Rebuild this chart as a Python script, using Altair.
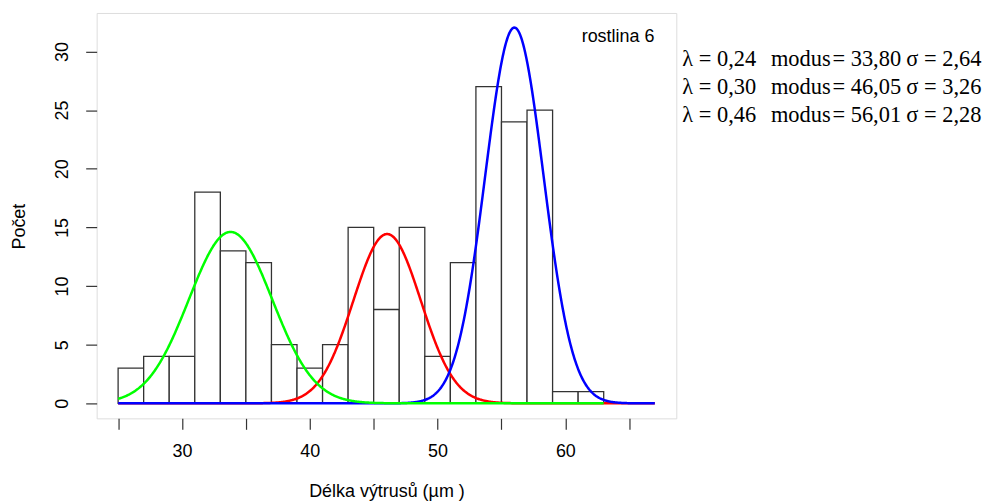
import altair as alt
import numpy as np
import pandas as pd

# ---- data ----
bin_left = [25, 27, 29, 31, 33, 35, 37, 39, 41, 43, 45, 47, 49, 51, 53, 55, 57, 59, 61]
counts = [3, 4, 4, 18, 13, 12, 5, 3, 5, 15, 8, 15, 4, 12, 27, 24, 25, 1, 1]
bin_width = 2

# fitted normal components as drawn (green, red, blue)
curve_modes = [33.80, 46.05, 56.01]
curve_lambdas = [0.30, 0.24, 0.46]
curve_sigmas = [3.26, 2.64, 2.28]
curve_colors = ["#00FF00", "#FF0000", "#0000FF"]
curve_x_from = [25, 25, 25]
curve_x_to = [63, 67, 67]

lambda_labels = ["λ = 0,24", "λ = 0,30", "λ = 0,46"]
modus_labels = ["modus\u200a= 33,80", "modus\u200a= 46,05", "modus\u200a= 56,01"]
sigma_labels = ["σ = 2,64", "σ = 3,26", "σ = 2,28"]

x_ticks = [25, 30, 35, 40, 45, 50, 55, 60, 65]
y_ticks = [0, 5, 10, 15, 20, 25, 30]
panel_label = "rostlina 6"
x_title = "Délka výtrusů (µm )"
y_title = "Počet"

# ---- tables ----
hist = pd.DataFrame({"left": bin_left, "count": counts})
hist["right"] = hist["left"] + bin_width
n_total = sum(counts)

curves = []
for i in range(3):
    xs = np.arange(curve_x_from[i], curve_x_to[i] + 1e-9, 0.05)
    ys = (curve_lambdas[i] * n_total * bin_width
          * np.exp(-0.5 * ((xs - curve_modes[i]) / curve_sigmas[i]) ** 2)
          / (curve_sigmas[i] * np.sqrt(2 * np.pi)))
    curves.append(pd.DataFrame({"x": xs, "y": ys}))

# ---- scales / axes ----
W, H = 582, 407
x_scale = alt.Scale(domain=[23.32, 68.68], nice=False, zero=False)
y_scale = alt.Scale(domain=[-1.28, 33.28], nice=False, zero=False)

common_axis = dict(
    domain=False, grid=False, tickColor="#333333", tickWidth=1.2, tickSize=11,
    labelFont="Liberation Sans", labelFontSize=18, labelColor="#000000",
    titleFont="Liberation Sans", titleFontSize=18, titleColor="#000000",
    titleFontWeight="normal",
)
x_axis = alt.Axis(
    values=x_ticks, labelExpr="datum.value % 10 == 0 ? datum.label : ''",
    labelPadding=13, labelFlush=False, titleX=W / 2, titleY=73,
    titleBaseline="middle", titleAlign="center", **common_axis)
y_axis = alt.Axis(
    values=y_ticks, labelAngle=-90, labelPadding=14, labelAlign="center",
    labelBaseline="bottom", titleAngle=-90, titleX=-77, titleY=214,
    titleBaseline="middle", titleAlign="center", **common_axis)


def xenc(field):
    return alt.X(f"{field}:Q", scale=x_scale, axis=x_axis, title=x_title)


def yenc(field):
    return alt.Y(f"{field}:Q", scale=y_scale, axis=y_axis, title=y_title)


bars = alt.Chart(hist).mark_bar(
    fill="white", stroke="#333333", strokeWidth=1.3, clip=True
).encode(
    x=xenc("left"), x2="right", y=yenc("count"), y2=alt.datum(0)
)

layers = [bars]
for i in [1, 2, 0]:  # red, blue, green (green drawn last)
    layers.append(
        alt.Chart(curves[i]).mark_line(
            color=curve_colors[i], strokeWidth=2.5, clip=True
        ).encode(x=xenc("x"), y=yenc("y"))
    )

# panel label
layers.append(
    alt.Chart(pd.DataFrame({"t": [panel_label]})).mark_text(
        align="right", baseline="middle", font="Liberation Sans", fontSize=18, color="black"
    ).encode(x=alt.value(560), y=alt.value(24), text="t:N")
)

# legend text on the right
col_x = [588, 677, 813]
row_y0, row_step = 46, 28
for r in range(3):
    for c, labels in enumerate([lambda_labels, modus_labels, sigma_labels]):
        layers.append(
            alt.Chart(pd.DataFrame({"t": [labels[r]]})).mark_text(
                align="left", baseline="middle", font="Liberation Serif",
                fontSize=22.5, color="black"
            ).encode(x=alt.value(col_x[c]), y=alt.value(row_y0 + r * row_step), text="t:N")
        )

chart = alt.layer(*layers).properties(
    width=W, height=H,
    autosize=alt.AutoSizeParams(type="none"),
    padding={"left": 89, "top": 4, "right": 318, "bottom": 84},
).configure_view(stroke="#333333", strokeWidth=1.3).configure(background="white")

chart.save("out.html", embed_options={"renderer": "svg", "actions": False})
